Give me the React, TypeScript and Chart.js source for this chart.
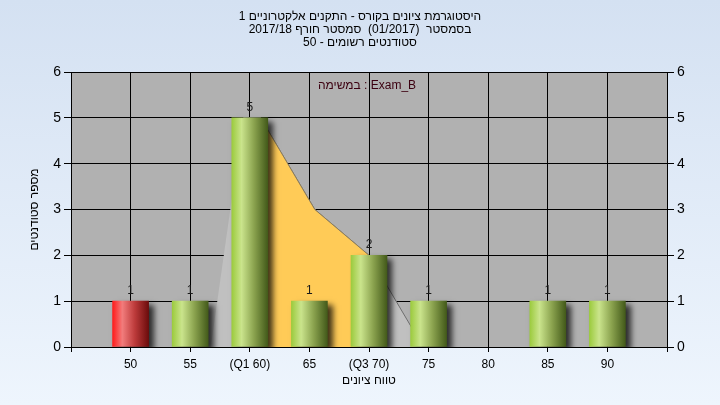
import React, { useEffect, useRef } from "react";
import { Chart, registerables } from "chart.js";

Chart.register(...registerables);
Chart.defaults.font.family = '"Liberation Sans", Arial, sans-serif';

// ---- data ----
const titleLines = [
  "היסטוגרמת ציונים בקורס - התקנים אלקטרוניים 1",
  "בסמסטר  (01/2017)  סמסטר חורף 2017/18",
  "סטודנטים רשומים - 50",
];
const legendText = "במשימה : Exam_B";
const xTitle = "טווח ציונים";
const yTitle = "מספר סטודנטים";

const categories = ["", "50", "55", "(Q1 60)", "65", "(Q3 70)", "75", "80", "85", "90", ""];
const counts: (number | null)[] = [null, 1, 1, 5, 1, 2, 1, 0, 1, 1, null];
const failIndex = 1;

// spread polygon (gray) and inter-quartile polygon (yellow), in category-index units
const spreadX = [1, 2.08, 2.68, 3, 4, 5, 6, 9];
const spreadY = [0, 0, 5, 5, 3, 2, 0, 0];
const iqrX = [3, 4, 5];
const iqrY = [5, 3, 2];

const yMin = 0;
const yMax = 6;

// ---- styles ----
const greenStops: [number, string][] = [
  [0, "#9ccb3e"],
  [0.27, "#cae48c"],
  [0.62, "#8aa24e"],
  [1, "#435a1a"],
];
const redStops: [number, string][] = [
  [0, "#ff1c1c"],
  [0.27, "#f27c7c"],
  [0.62, "#bc3a3a"],
  [1, "#6c0c0c"],
];

const barFill = (c: any) => {
  const chart = c.chart;
  if (!chart.chartArea || c.type !== "data") return "#9ccb3e";
  const cx = chart.scales.x.getPixelForValue(c.dataIndex);
  const g = chart.ctx.createLinearGradient(cx - 18, 0, cx + 18, 0);
  const stops = c.dataIndex === failIndex ? redStops : greenStops;
  stops.forEach(([o, col]) => g.addColorStop(o, col));
  return g;
};

const plotBg = {
  id: "plotBg",
  beforeDraw(chart: any) {
    const { ctx, chartArea: a } = chart;
    ctx.save();
    ctx.fillStyle = "#b1b1b1";
    ctx.fillRect(a.left, a.top, a.width, a.height);
    ctx.restore();
  },
};

const barShadow = {
  id: "barShadow",
  beforeDatasetDraw(chart: any, args: any) {
    if (args.meta.type !== "bar") return;
    const c = chart.ctx;
    c.save();
    c.shadowColor = "rgba(0,0,0,0.75)";
    c.shadowBlur = 6;
    c.shadowOffsetX = 5;
    c.shadowOffsetY = 4;
  },
  afterDatasetDraw(chart: any, args: any) {
    if (args.meta.type !== "bar") return;
    chart.ctx.restore();
  },
};

const valueLabels = {
  id: "valueLabels",
  afterDatasetsDraw(chart: any) {
    const ctx = chart.ctx;
    chart.data.datasets.forEach((ds: any, di: number) => {
      if (ds.type && ds.type !== "bar") return;
      const meta = chart.getDatasetMeta(di);
      ctx.save();
      ctx.font = '12px "Liberation Sans", Arial, sans-serif';
      ctx.fillStyle = "#1a1a1a";
      ctx.textAlign = "center";
      ctx.textBaseline = "alphabetic";
      meta.data.forEach((el: any, i: number) => {
        const v = counts[i];
        if (!v) return;
        ctx.fillText(String(v), el.x, el.y - 7);
      });
      ctx.restore();
    });
  },
};

const legendLabel = {
  id: "legendLabel",
  afterDraw(chart: any) {
    const { ctx, chartArea: a } = chart;
    ctx.save();
    ctx.font = '12px "Liberation Sans", Arial, sans-serif';
    ctx.fillStyle = "#3c0010";
    ctx.textAlign = "center";
    ctx.textBaseline = "middle";
    ctx.fillText(legendText, (a.left + a.right) / 2 - 2, a.top + 14);
    ctx.restore();
  },
};

export default function App() {
  const ref = useRef<HTMLCanvasElement>(null);
  useEffect(() => {
    document.body.style.margin = "0";
    const chart = new Chart(ref.current!, {
      type: "bar",
      data: {
        labels: categories,
        datasets: [
          {
            type: "bar",
            label: "Exam_B",
            data: counts.map((v) => (v === 0 ? null : v)) as any,
            xAxisID: "x",
            yAxisID: "y",
            backgroundColor: barFill as any,
            borderWidth: 0,
            barThickness: 36,
            grouped: false,
            order: 0,
          } as any,
          {
            type: "line",
            label: "iqr",
            data: iqrX.map((x, i) => ({ x, y: iqrY[i] })),
            xAxisID: "xa",
            yAxisID: "y",
            fill: "origin",
            backgroundColor: "#ffcb57",
            borderColor: "#8a7c5c",
            borderWidth: 1,
            pointRadius: 0,
            tension: 0,
            order: 1,
          } as any,
          {
            type: "line",
            label: "spread",
            data: spreadX.map((x, i) => ({ x, y: spreadY[i] })),
            xAxisID: "xa",
            yAxisID: "y",
            fill: "origin",
            backgroundColor: "#c0c0c0",
            borderColor: "#6e6e6e",
            borderWidth: 1,
            pointRadius: 0,
            tension: 0,
            segment: {
              borderColor: (c: any) =>
                c.p0DataIndex >= 2 && c.p0DataIndex <= 5 ? "#6e6e6e" : "rgba(0,0,0,0)",
            },
            order: 2,
          } as any,
        ],
      },
      options: {
        responsive: false,
        animation: false,
        devicePixelRatio: 1,
        layout: { padding: 0 },
        plugins: {
          legend: { display: false },
          tooltip: { enabled: false },
          title: {
            display: true,
            text: titleLines,
            color: "#000",
            font: { size: 12, weight: "normal", lineHeight: 13 / 12 },
            padding: { top: 10.5, bottom: 22.5 },
          },
        },
        scales: {
          x: {
            type: "category",
            offset: false,
            grid: { offset: false, color: "#000", tickColor: "#000", tickLength: 5, lineWidth: 1 },
            border: { color: "#000" },
            ticks: { autoSkip: false, maxRotation: 0, color: "#000", font: { size: 12 }, padding: 5 },
            title: {
              display: true,
              text: xTitle,
              color: "#000",
              font: { size: 12 },
              padding: { top: 0, bottom: 17 },
            },
            afterFit: (s: any) => {
              s.height = 58;
            },
          },
          xa: { type: "linear", display: false, min: 0, max: categories.length - 1 },
          y: {
            position: "left",
            min: yMin,
            max: yMax,
            ticks: { stepSize: 1, color: "#000", font: { size: 14 }, padding: 3 },
            grid: { color: "#000", tickColor: "#000", tickLength: 7 },
            border: { color: "#000" },
            title: {
              display: true,
              text: yTitle,
              color: "#000",
              font: { size: 12 },
              padding: { top: 27, bottom: 0 },
            },
            afterFit: (s: any) => {
              s.width = 71;
            },
          },
          y2: {
            position: "right",
            min: yMin,
            max: yMax,
            ticks: { stepSize: 1, color: "#000", font: { size: 14 }, padding: 3 },
            grid: { drawOnChartArea: false, color: "#000", tickColor: "#000", tickLength: 7 },
            border: { color: "#000" },
            afterFit: (s: any) => {
              s.width = 53;
            },
          },
        },
      } as any,
      plugins: [plotBg, barShadow, valueLabels, legendLabel],
    });
    return () => chart.destroy();
  }, []);
  return (
    <div
      style={{
        width: 720,
        height: 405,
        background: "linear-gradient(to bottom, #d4e1f2, #eef5fd)",
      }}
    >
      <canvas ref={ref} width={720} height={405} style={{ display: "block" }} />
    </div>
  );
}
